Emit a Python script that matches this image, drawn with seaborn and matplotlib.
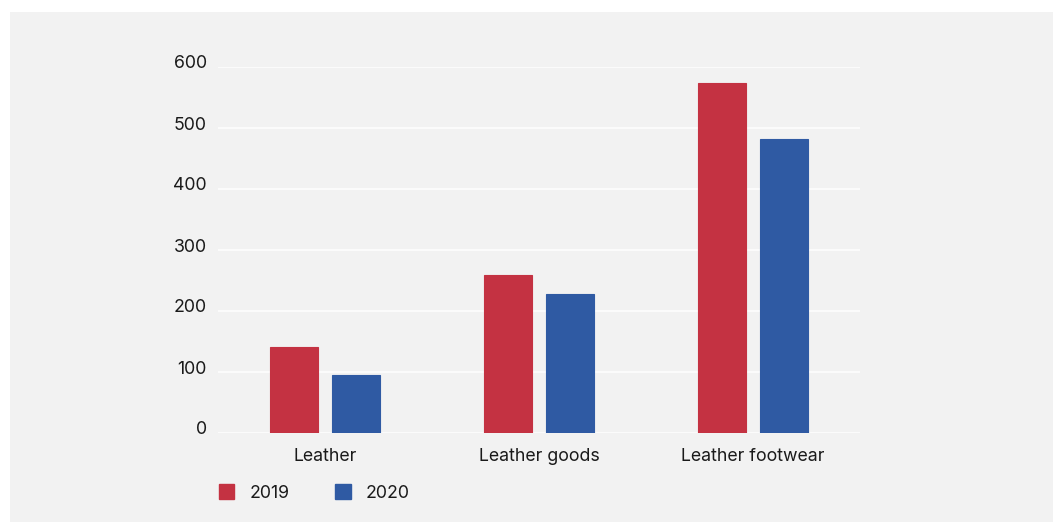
import matplotlib
matplotlib.use("Agg")
import matplotlib.pyplot as plt
import matplotlib.transforms as mtransforms
from matplotlib.patches import Patch, Rectangle
import seaborn as sns
import pandas as pd

categories = ["Leather", "Leather goods", "Leather footwear"]
years = ["2019", "2020"]
values_2019 = [141, 259, 574]
values_2020 = [95, 228, 482]
yticks = [0, 100, 200, 300, 400, 500, 600]

df = pd.DataFrame({
    "category": categories * 2,
    "year": [years[0]] * 3 + [years[1]] * 3,
    "value": values_2019 + values_2020,
})

RED = "#C43242"
BLUE = "#2F5AA3"
BG = "#F2F2F2"

sns.set_theme(style="white")
plt.rcParams["font.family"] = ["Inter", "DejaVu Sans"]

fig = plt.figure(figsize=(10.53, 5.22), dpi=100, facecolor="white")
fig.patches.append(Rectangle((10 / 1053, 0), 1 - 10 / 1053, 1 - 12 / 522,
                             transform=fig.transFigure, facecolor=BG,
                             edgecolor="none", zorder=-10))
ax = fig.add_axes([218 / 1053, 1 - 433 / 522, (860 - 218) / 1053, (433 - 67) / 522])
ax.set_facecolor(BG)

sns.barplot(data=df, x="category", y="value", hue="year", order=categories,
            hue_order=years, palette=[RED, BLUE], saturation=1, width=0.58,
            gap=0.23, ax=ax, legend=False, zorder=3)
for bar, c in zip(ax.patches, [RED] * 3 + [BLUE] * 3):
    bar.set_edgecolor(c)
    bar.set_linewidth(0.8)

ax.set_xlim(-0.5, 2.5)
ax.set_ylim(0, 600)
ax.set_yticks(yticks)
ax.set_yticklabels([str(t) for t in yticks])
ax.yaxis.grid(True, color="white", linewidth=1.1, zorder=0)
ax.set_axisbelow(True)
for s in ax.spines.values():
    s.set_visible(False)
ax.set_xlabel("")
ax.set_ylabel("")
ax.tick_params(axis="y", length=0, pad=8, labelsize=12.8, labelcolor="#1a1a1a")
ax.tick_params(axis="x", length=0, pad=11, labelsize=12.8, labelcolor="#1a1a1a")
off = mtransforms.ScaledTranslation(0, 5 / 100, fig.dpi_scale_trans)
for lbl in ax.get_yticklabels():
    lbl.set_transform(lbl.get_transform() + off)

handles = [Patch(facecolor=RED, edgecolor=RED), Patch(facecolor=BLUE, edgecolor=BLUE)]
fig.legend(handles, years, loc="center left",
           bbox_to_anchor=(203 / 1053, 1 - 493 / 522), ncol=2, frameon=False,
           fontsize=12.8, handlelength=0.85, handleheight=0.9, handletextpad=0.85,
           columnspacing=2.6, labelcolor="#1a1a1a")

fig.savefig("out.png", dpi=100, facecolor="white")
